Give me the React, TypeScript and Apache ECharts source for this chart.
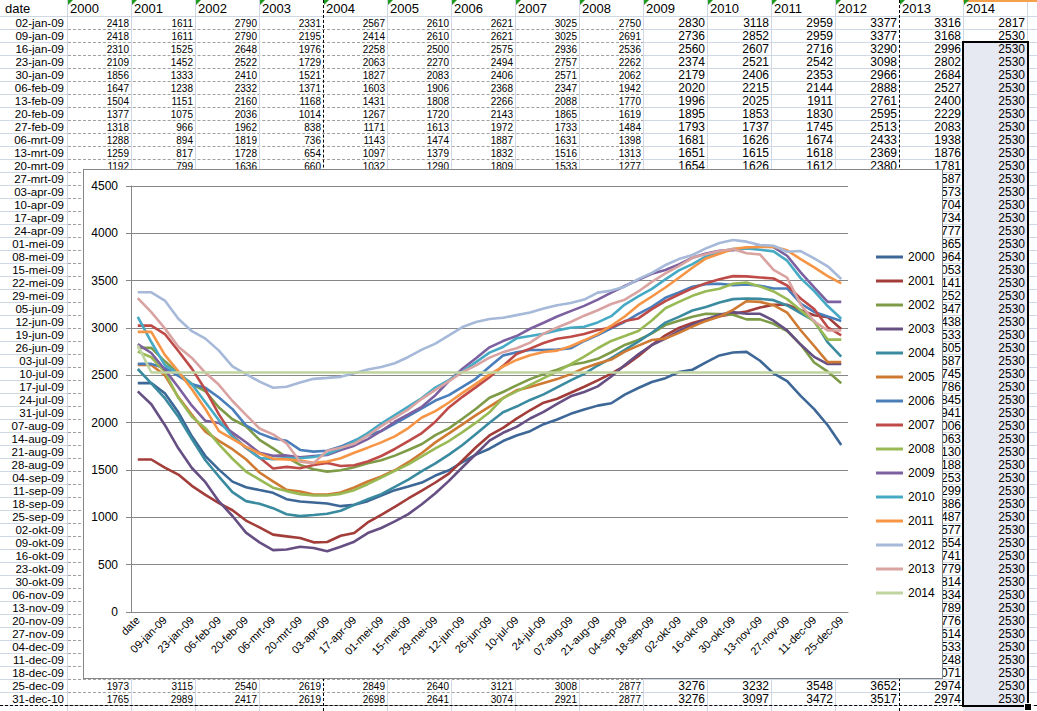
import React, { useEffect, useRef } from 'react';
import * as echarts from 'echarts';

const years = ['2000', '2001', '2002', '2003', '2004', '2005', '2006', '2007', '2008', '2009', '2010', '2011', '2012', '2013', '2014'];

const dates = [
  '02-jan-09', '09-jan-09', '16-jan-09', '23-jan-09', '30-jan-09', '06-feb-09', '13-feb-09', '20-feb-09', '27-feb-09',
  '06-mrt-09', '13-mrt-09', '20-mrt-09', '27-mrt-09', '03-apr-09', '10-apr-09', '17-apr-09', '24-apr-09',
  '01-mei-09', '08-mei-09', '15-mei-09', '22-mei-09', '29-mei-09', '05-jun-09', '12-jun-09', '19-jun-09', '26-jun-09',
  '03-jul-09', '10-jul-09', '17-jul-09', '24-jul-09', '31-jul-09', '07-aug-09', '14-aug-09', '21-aug-09', '28-aug-09',
  '04-sep-09', '11-sep-09', '18-sep-09', '25-sep-09', '02-okt-09', '09-okt-09', '16-okt-09', '23-okt-09', '30-okt-09',
  '06-nov-09', '13-nov-09', '20-nov-09', '27-nov-09', '04-dec-09', '11-dec-09', '18-dec-09', '25-dec-09', '31-dec-10'
];

const v2000 = [2418, 2418, 2310, 2109, 1856, 1647, 1504, 1377, 1318, 1288, 1259, 1192, 1167, 1157, 1146, 1118, 1132, 1171, 1231, 1287, 1325, 1367, 1441, 1497, 1582, 1662, 1725, 1806, 1865, 1910, 1984, 2033, 2093, 2138, 2180, 2205, 2296, 2366, 2429, 2470, 2535, 2559, 2636, 2710, 2741, 2748, 2654, 2520, 2440, 2283, 2143, 1973, 1765];
const v2001 = [1611, 1611, 1525, 1452, 1333, 1238, 1151, 1075, 966, 894, 817, 799, 781, 736, 739, 806, 834, 946, 1027, 1111, 1199, 1283, 1368, 1462, 1600, 1740, 1865, 1945, 2043, 2131, 2211, 2253, 2316, 2379, 2446, 2519, 2600, 2701, 2820, 2923, 3001, 3054, 3093, 3125, 3149, 3174, 3216, 3245, 3245, 3188, 3135, 3115, 2989];
const v2002 = [2790, 2790, 2648, 2522, 2410, 2332, 2160, 2036, 1962, 1819, 1728, 1636, 1553, 1508, 1483, 1497, 1529, 1571, 1603, 1652, 1711, 1775, 1869, 1940, 2041, 2147, 2263, 2324, 2394, 2460, 2513, 2558, 2611, 2635, 2674, 2744, 2821, 2873, 2943, 3031, 3077, 3119, 3150, 3147, 3140, 3091, 3091, 3045, 2968, 2825, 2636, 2540, 2417];
const v2003 = [2331, 2195, 1976, 1729, 1521, 1371, 1168, 1014, 838, 736, 654, 660, 690, 676, 641, 690, 743, 834, 887, 957, 1034, 1139, 1255, 1385, 1529, 1669, 1810, 1893, 1956, 2044, 2114, 2198, 2278, 2324, 2383, 2488, 2610, 2723, 2820, 2888, 2969, 3035, 3091, 3140, 3168, 3150, 3150, 3077, 2975, 2825, 2695, 2619, 2619];
const v2004 = [2567, 2414, 2258, 2063, 1827, 1603, 1431, 1267, 1171, 1143, 1097, 1032, 1013, 1024, 1038, 1069, 1132, 1192, 1245, 1322, 1399, 1487, 1571, 1662, 1764, 1880, 2000, 2110, 2170, 2240, 2299, 2373, 2446, 2516, 2604, 2681, 2768, 2856, 2950, 3057, 3118, 3185, 3223, 3269, 3305, 3312, 3308, 3294, 3238, 3156, 3075, 2849, 2698];
const v2005 = [2610, 2610, 2500, 2270, 2083, 1906, 1808, 1720, 1613, 1474, 1379, 1290, 1273, 1241, 1241, 1262, 1315, 1378, 1431, 1497, 1582, 1680, 1792, 1887, 1982, 2080, 2170, 2260, 2341, 2376, 2418, 2460, 2513, 2576, 2625, 2667, 2751, 2814, 2873, 2888, 2948, 3015, 3075, 3121, 3192, 3283, 3276, 3241, 3163, 2976, 2810, 2640, 2641];
const v2006 = [2621, 2621, 2575, 2494, 2406, 2368, 2266, 2143, 1972, 1887, 1832, 1809, 1712, 1694, 1704, 1747, 1810, 1866, 1912, 1990, 2070, 2150, 2234, 2291, 2378, 2466, 2590, 2709, 2744, 2768, 2768, 2772, 2786, 2863, 2926, 2996, 3066, 3150, 3223, 3319, 3375, 3435, 3463, 3467, 3453, 3460, 3446, 3418, 3418, 3259, 3170, 3121, 3074];
const v2007 = [3025, 3025, 2936, 2757, 2571, 2347, 2088, 1865, 1733, 1631, 1516, 1533, 1518, 1554, 1575, 1543, 1550, 1589, 1648, 1722, 1806, 1890, 2010, 2161, 2273, 2375, 2480, 2600, 2726, 2782, 2842, 2887, 2908, 2936, 2978, 3006, 3073, 3101, 3199, 3283, 3354, 3418, 3474, 3516, 3548, 3545, 3534, 3523, 3449, 3312, 3200, 3008, 2921];
const v2008 = [2750, 2691, 2536, 2262, 2062, 1942, 1770, 1619, 1484, 1398, 1313, 1277, 1245, 1231, 1231, 1248, 1287, 1350, 1420, 1490, 1560, 1645, 1729, 1806, 1900, 2000, 2110, 2260, 2330, 2400, 2470, 2540, 2618, 2698, 2786, 2863, 2915, 2968, 3080, 3209, 3276, 3340, 3389, 3414, 3467, 3481, 3439, 3386, 3305, 3188, 3065, 2877, 2877];
const v2009 = [2830, 2736, 2560, 2374, 2179, 2020, 1996, 1895, 1793, 1681, 1651, 1654, 1634, 1648, 1659, 1712, 1757, 1827, 1912, 2010, 2087, 2168, 2290, 2440, 2570, 2680, 2796, 2862, 2915, 2992, 3055, 3122, 3178, 3234, 3300, 3374, 3444, 3510, 3573, 3612, 3672, 3742, 3788, 3816, 3823, 3841, 3862, 3855, 3763, 3587, 3428, 3276, 3276];
const v2010 = [3118, 2852, 2607, 2521, 2406, 2215, 2025, 1853, 1737, 1626, 1615, 1626, 1624, 1638, 1669, 1726, 1806, 1890, 1990, 2080, 2170, 2260, 2370, 2450, 2540, 2640, 2740, 2800, 2891, 2915, 2940, 2975, 3003, 3013, 3059, 3125, 3248, 3335, 3413, 3513, 3608, 3675, 3756, 3806, 3834, 3841, 3827, 3809, 3711, 3527, 3389, 3232, 3097];
const v2011 = [2959, 2959, 2716, 2542, 2353, 2144, 1911, 1830, 1745, 1674, 1618, 1612, 1599, 1575, 1589, 1624, 1683, 1736, 1792, 1855, 1943, 2055, 2122, 2213, 2315, 2410, 2510, 2593, 2663, 2712, 2747, 2761, 2807, 2870, 2936, 3024, 3122, 3241, 3333, 3428, 3531, 3636, 3735, 3785, 3834, 3852, 3855, 3859, 3820, 3728, 3640, 3548, 3472];
const v2012 = [3377, 3377, 3290, 3098, 2966, 2888, 2761, 2595, 2513, 2433, 2369, 2380, 2424, 2463, 2473, 2484, 2522, 2561, 2589, 2628, 2694, 2772, 2835, 2922, 3010, 3063, 3095, 3108, 3136, 3164, 3206, 3241, 3265, 3300, 3374, 3395, 3437, 3517, 3583, 3665, 3728, 3771, 3841, 3898, 3929, 3912, 3876, 3869, 3806, 3813, 3735, 3652, 3517];
const v2013 = [3316, 3168, 2996, 2802, 2684, 2527, 2400, 2229, 2083, 1938, 1876, 1781, 1587, 1573, 1704, 1734, 1777, 1865, 1964, 2053, 2141, 2252, 2347, 2438, 2533, 2605, 2687, 2745, 2786, 2845, 2941, 3006, 3063, 3130, 3188, 3253, 3299, 3386, 3487, 3577, 3654, 3741, 3779, 3814, 3834, 3789, 3776, 3614, 3533, 3248, 3071, 2974, 2974];
const v2014 = [2817, 2530, 2530, 2530, 2530, 2530, 2530, 2530, 2530, 2530, 2530, 2530, 2530, 2530, 2530, 2530, 2530, 2530, 2530, 2530, 2530, 2530, 2530, 2530, 2530, 2530, 2530, 2530, 2530, 2530, 2530, 2530, 2530, 2530, 2530, 2530, 2530, 2530, 2530, 2530, 2530, 2530, 2530, 2530, 2530, 2530, 2530, 2530, 2530, 2530, 2530, 2530, 2530];

const values = [v2000, v2001, v2002, v2003, v2004, v2005, v2006, v2007, v2008, v2009, v2010, v2011, v2012, v2013, v2014];

// the chart's category range starts at the header cell, so labels sit one row ahead of the values
const categories = ['date', ...dates.slice(0, dates.length - 1)];

const lineColors = [
  '#3D6797', '#A23D3A', '#7E9B48', '#664F83', '#3A8AA0', '#CF7A33',
  '#4A7EBB', '#BE4B48', '#98B954', '#7D60A0', '#46AAC5', '#F69546',
  '#A6B9D8', '#D9A3A2', '#C0D4A0'
];

const SHEET_FONT = '"Liberation Sans", Arial, sans-serif';
const CHART_FONT = '"Liberation Sans", Arial, sans-serif';
const HEAD_H = 17;
const ROW_H = 13;
const DATE_W = 68;
const COL_W = 64;
const PAGE_W = 1037;
const PAGE_H = 711;

function Sheet() {
  const items: React.ReactNode[] = [];
  const dashedEnd = DATE_W + COL_W * 9;

  // row lines
  for (let r = 0; r <= dates.length; r++) {
    const y = HEAD_H + r * ROW_H - 1;
    if (r === 0) {
      items.push(<div key={'hr' + r} style={{ position: 'absolute', left: 0, top: y, width: PAGE_W, borderTop: '1px solid #D0D7E5' }} />);
      continue;
    }
    items.push(<div key={'ha' + r} style={{ position: 'absolute', left: 0, top: y, width: DATE_W, borderTop: '1px solid #D0D7E5' }} />);
    items.push(<div key={'hb' + r} style={{ position: 'absolute', left: DATE_W, top: y, width: dashedEnd - DATE_W, borderTop: '1px dashed #A0A0A0' }} />);
    items.push(<div key={'hc' + r} style={{ position: 'absolute', left: dashedEnd, top: y, width: PAGE_W - dashedEnd, borderTop: '1px solid #D0D7E5' }} />);
  }

  // column lines
  for (let k = 0; k <= years.length; k++) {
    const x = DATE_W + k * COL_W - 1;
    const pageBreak = k === 4 || k === 13;
    items.push(
      <div key={'vl' + k} style={{
        position: 'absolute', left: x, top: 0, height: PAGE_H,
        borderLeft: pageBreak ? '1px dashed #000' : '1px solid #D0D7E5'
      }} />
    );
  }
  items.push(<div key="pb" style={{ position: 'absolute', left: 0, top: HEAD_H + dates.length * ROW_H - 1, width: PAGE_W, borderTop: '1px dashed #000' }} />);

  // selection in the last column
  const selTop = HEAD_H + 2 * ROW_H - 1;
  const selX = DATE_W + 14 * COL_W - 1;
  items.push(<div key="self" style={{ position: 'absolute', left: selX, top: selTop, width: COL_W, height: PAGE_H - selTop, background: '#E6E8F2' }} />);
  items.push(<div key="selb" style={{ position: 'absolute', left: selX - 1, top: selTop - 1, width: COL_W - 1, height: (dates.length - 2) * ROW_H - 1, border: '2px solid #000' }} />);
  items.push(<div key="selh" style={{ position: 'absolute', left: selX + COL_W - 3, top: HEAD_H + dates.length * ROW_H - 3, width: 6, height: 6, background: '#000', border: '1px solid #fff' }} />);
  items.push(<div key="selc" style={{ position: 'absolute', left: selX, top: 0, width: PAGE_W - selX, height: 2, background: '#F5A04A' }} />);

  // header row
  items.push(<div key="hd" style={{ position: 'absolute', left: 5, top: 0, lineHeight: HEAD_H + 'px', fontSize: 13 }}>date</div>);
  years.forEach((y, k) => {
    const x = DATE_W + k * COL_W;
    items.push(<div key={'hy' + y} style={{ position: 'absolute', left: x + 2, top: 0, lineHeight: HEAD_H + 'px', fontSize: 13 }}>{y}</div>);
    items.push(<div key={'tr' + y} style={{ position: 'absolute', left: x, top: 0, width: 0, height: 0, borderTop: '5px solid #1E9B1E', borderRight: '5px solid transparent' }} />);
  });

  // data rows
  dates.forEach((d, r) => {
    const top = HEAD_H + r * ROW_H;
    items.push(
      <div key={'d' + r} style={{ position: 'absolute', left: 0, top, width: DATE_W - 4, textAlign: 'right', lineHeight: ROW_H + 'px', fontSize: 11.5 }}>{d}</div>
    );
    values.forEach((vals, k) => {
      const x = DATE_W + k * COL_W;
      items.push(
        <div key={'c' + r + '-' + k} style={{
          position: 'absolute', left: x, top, width: COL_W - 3, textAlign: 'right',
          lineHeight: ROW_H + 'px', fontSize: k < 9 ? 10 : 12
        }}>{vals[r]}</div>
      );
    });
  });

  return (
    <div style={{ position: 'absolute', left: 0, top: 0, width: PAGE_W, height: PAGE_H, overflow: 'hidden', fontFamily: SHEET_FONT, color: '#000', background: '#fff' }}>
      {items}
    </div>
  );
}

function WeekChart() {
  const chartRef = useRef<HTMLDivElement>(null);

  useEffect(() => {
    if (!chartRef.current) return;
    const chart = echarts.init(chartRef.current, undefined, { renderer: 'svg' });

    chart.setOption({
      animation: false,
      color: lineColors,
      textStyle: { fontFamily: CHART_FONT },
      grid: { left: 47, right: 94, top: 16, bottom: 66, outerBoundsMode: 'none' },
      legend: {
        orient: 'vertical',
        left: 787,
        top: 75,
        icon: 'rect',
        itemWidth: 27,
        itemHeight: 3,
        itemGap: 10,
        textStyle: { fontSize: 12, color: '#000', lineHeight: 14 },
        data: years
      },
      xAxis: {
        type: 'category',
        data: categories,
        boundaryGap: true,
        axisLine: { lineStyle: { color: '#868686' } },
        axisTick: { interval: 0, length: 5, lineStyle: { color: '#868686' } },
        axisLabel: { interval: 1, rotate: 45, fontSize: 11, color: '#000', margin: 6, hideOverlap: false }
      },
      yAxis: {
        type: 'value',
        min: 0,
        max: 4500,
        interval: 500,
        axisLine: { show: true, lineStyle: { color: '#868686' } },
        axisTick: { show: true, length: 5, lineStyle: { color: '#868686' } },
        axisLabel: { fontSize: 12, color: '#000', margin: 13, formatter: (v: number) => String(v) },
        splitLine: { lineStyle: { color: '#868686', width: 1 } }
      },
      series: years.map((name, k) => ({
        name,
        type: 'line',
        data: values[k],
        symbol: 'none',
        lineStyle: { width: 2.6 },
        emphasis: { disabled: true }
      }))
    });

    return () => {
      chart.dispose();
    };
  }, []);

  return (
    <div
      ref={chartRef}
      style={{ position: 'absolute', left: 83, top: 169, width: 858, height: 508, border: '1px solid #868686', background: '#fff' }}
    />
  );
}

export default function App() {
  return (
    <div style={{ position: 'fixed', left: 0, top: 0, width: PAGE_W, height: PAGE_H, overflow: 'hidden', background: '#fff' }}>
      <Sheet />
      <WeekChart />
    </div>
  );
}
